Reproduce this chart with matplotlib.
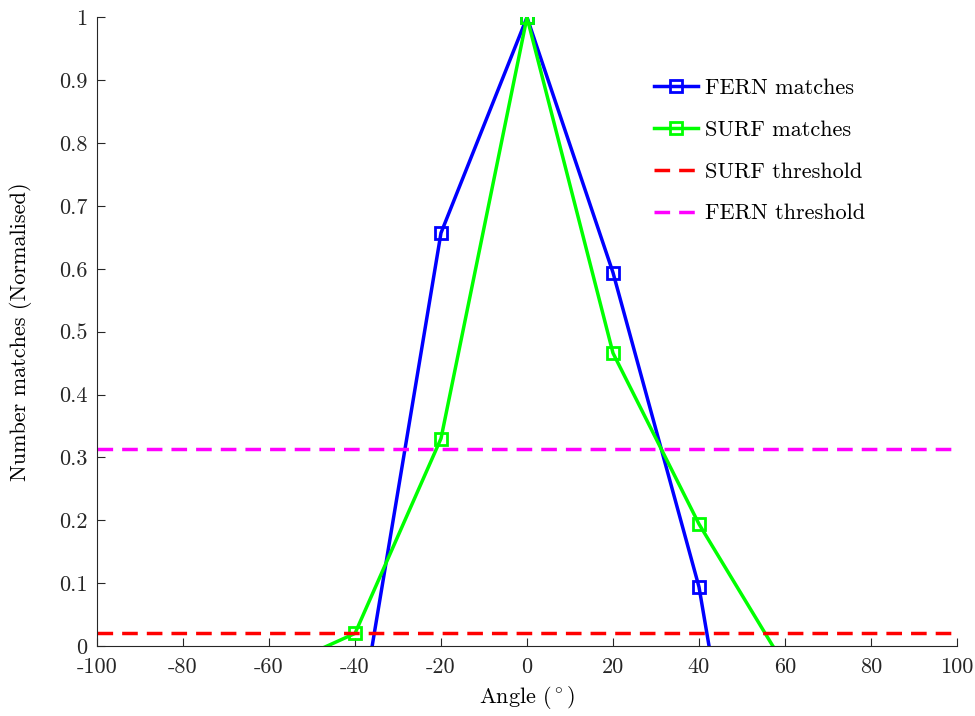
import matplotlib
matplotlib.use("Agg")
import matplotlib.pyplot as plt
import numpy as np

plt.rcParams['font.family'] = 'serif'
plt.rcParams['font.serif'] = ['cmr10']
plt.rcParams['mathtext.fontset'] = 'cm'
plt.rcParams['axes.unicode_minus'] = False
plt.rcParams['axes.formatter.use_mathtext'] = True

angles = [-60, -40, -20, 0, 20, 40, 60]
fern = [-0.98, -0.164, 0.657, 1.0, 0.594, 0.094, -0.71]
surf = [-0.042, 0.02, 0.33, 1.0, 0.466, 0.194, -0.032]
surf_thr = 0.02
fern_thr = 0.313

xticks = list(range(-100, 101, 20))
yticks = [0, 0.1, 0.2, 0.3, 0.4, 0.5, 0.6, 0.7, 0.8, 0.9, 1]
ytick_labels = ['0', '0.1', '0.2', '0.3', '0.4', '0.5', '0.6', '0.7', '0.8', '0.9', '1']

fig = plt.figure(figsize=(9.75, 7.16), dpi=100)
ax = fig.add_axes([0.0995, 0.0978, 0.882, 0.878])

ax.plot(angles, fern, color='#0000ff', lw=2.5, marker='s', ms=8, mfc='none',
        mew=2, label='FERN matches')
ax.plot(angles, surf, color='#00ff00', lw=2.5, marker='s', ms=8, mfc='none',
        mew=2, label='SURF matches')
ax.axhline(surf_thr, color='#ff0000', lw=2.5, dashes=(4.5, 2.6), label='SURF threshold')
ax.axhline(fern_thr, color='#ff00ff', lw=2.5, dashes=(4.5, 2.6), label='FERN threshold')

ax.set_xlim(-100, 100)
ax.set_ylim(0, 1)
ax.set_xticks(xticks)
ax.set_xticklabels([str(t) for t in xticks])
ax.set_yticks(yticks)
ax.set_yticklabels(ytick_labels)
ax.tick_params(direction='in', length=6, width=0.8, labelsize=16,
               colors='#262626', labelcolor='#262626')
ax.tick_params(axis='x', pad=8)
ax.tick_params(axis='y', pad=7)
for s in ['top', 'right']:
    ax.spines[s].set_visible(False)
for s in ['left', 'bottom']:
    ax.spines[s].set_color('#262626')
    ax.spines[s].set_linewidth(0.8)

ax.set_xlabel(r'Angle ($^\circ$)', fontsize=16, labelpad=5)
ax.set_ylabel('Number matches (Normalised)', fontsize=16, labelpad=19)

ax.legend(loc='upper left', bbox_to_anchor=(0.637, 0.917), borderaxespad=0,
          frameon=False, fontsize=16, handlelength=2.0, labelspacing=1.0,
          handletextpad=0.3)

fig.savefig('out.png', dpi=100)
